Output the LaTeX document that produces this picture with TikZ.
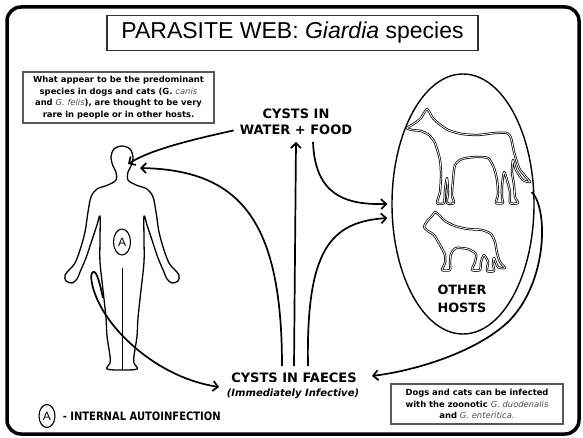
\documentclass[tikz,border=0pt]{standalone}
\usepackage{fontspec}
\setmainfont{DejaVu Sans}
\newfontfamily\titlefont{Liberation Sans}
\newfontfamily\narrowfont[FakeStretch=0.86]{DejaVu Sans}
\usetikzlibrary{arrows.meta,shapes.geometric}
\newcommand\spname[1]{{\mdseries\itshape\color{black!70}#1}}

\begin{document}
\begin{tikzpicture}[x=1pt,y=-1pt,
  flow/.style={line width=1.7pt,-{Straight Barb[length=5pt,width=10pt]}},
  notebox/.style={draw=black!65,line width=1.1pt,align=center,inner sep=2pt,
    font=\fontsize{8.4}{11.6}\selectfont\bfseries},
  label/.style={font=\fontsize{13}{16}\selectfont\bfseries,align=center,inner sep=0pt},
  outline/.style={line width=1.3pt,line join=round},
  animal/.style={double=white,double distance=0.8pt,line width=0.75pt,line join=round},
  letter/.style={draw,ellipse,line width=1.1pt,inner sep=0pt,
    font=\titlefont\fontsize{12}{12}\selectfont}]

\useasboundingbox (0,0) rectangle (583,438);
\fill[white] (0,0) rectangle (583,438);

% outer frame
\draw[line width=3.5pt,rounded corners=14pt] (7,7) rectangle (579,434);

% title
\node[draw=black!80,line width=1.3pt,minimum width=371pt,minimum height=35pt,
  font=\titlefont\fontsize{23}{23}\selectfont] (title) at (292.5,33)
  {PARASITE WEB: \textit{Giardia} species};

% notes
\node[notebox,minimum width=191pt,minimum height=51pt] (note) at (118.5,97.5)
  {What appear to be the predominant\\species in dogs and cats (G. \spname{canis}\\and \spname{G. felis}), are thought to be very\\rare in people or in other hosts.};
\node[notebox,minimum width=172pt,minimum height=40pt] (zoo) at (477,404)
  {Dogs and cats can be infected\\with the zoonotic \spname{G. duodenalis}\\and \spname{G. enteritica.}};

% stage labels
\node[label,text height=9.5pt,text depth=0pt] (water) at (296,130) {CYSTS IN\\WATER + FOOD};
\node[label,text height=9.5pt,text depth=0pt] (faeces) at (294,378) {CYSTS IN FAECES};
\node[font=\fontsize{10}{10}\selectfont\bfseries\itshape,inner sep=0pt] (infective) at (293,394)
  {(Immediately Infective)};

% human figure
\draw[outline] plot[smooth cycle,tension=0.55] coordinates {
  (122,146) (114,149) (111,157) (113,166) (116,172) (116,180) (108,185) (97,189)
  (91,197) (88,212) (85,232) (80,250) (75,263) (70,269) (65,275) (66,281) (72,283)
  (77,279) (80,272) (86,258) (92,240) (97,225) (100,216) (100,240) (100,262)
  (103,290) (106,318) (107,336) (110,356) (110,363) (107,369) (122,370)
  (137,369) (134,363) (134,356) (137,336) (138,318) (141,290) (144,262) (144,240)
  (144,216) (147,225) (152,240) (158,258) (164,272) (167,279) (172,283) (178,281)
  (179,275) (174,269) (169,263) (164,250) (159,232) (156,212) (153,197) (147,189)
  (136,185) (128,180) (128,172) (131,166) (133,157) (130,149)};
\draw[outline] (122.5,268) -- (122.5,370);
\node[letter,minimum width=17pt,minimum height=26pt] (gut) at (122,242) {A};
\coordinate (mouth) at (128,164);
\coordinate (mouth2) at (140,168);

% hosts
\node[draw,ellipse,line width=1.4pt,minimum width=142pt,minimum height=260pt,inner sep=0pt]
  (hosts) at (463,204) {};
% dog
\draw[animal] plot[smooth cycle,tension=0.4] coordinates {
  (407,128) (415,123) (421,118) (424,113) (427,109) (430,113) (432,117) (438,123)
  (448,130) (462,134) (478,135) (495,133) (507,133) (511,138) (514,152) (519,168)
  (525,176) (530,182) (523,180) (516,170) (513,160) (512,172) (514,185) (515,197)
  (518,203) (510,203) (510,192) (507,180) (504,172) (502,186) (502,198) (503,203)
  (496,203) (498,194) (497,180) (494,168) (488,158) (475,157) (462,159) (455,165)
  (453,180) (452,195) (454,203) (447,203) (448,192) (447,178) (445,190) (444,203)
  (437,203) (440,192) (441,175) (440,160) (435,143) (429,135) (421,131) (412,130)};
% cat
\draw[animal] plot[smooth cycle,tension=0.4] coordinates {
  (424,227) (428,220) (432,216) (435,212) (439,215) (445,221) (455,226) (468,229)
  (482,230) (491,234) (495,242) (497,253) (500,262) (505,268) (498,267) (494,258)
  (493,264) (494,271) (487,271) (488,262) (484,255) (481,262) (480,270) (472,270)
  (475,262) (476,254) (468,249) (456,248) (451,254) (450,263) (450,270) (442,270)
  (445,263) (445,255) (440,245) (434,235) (428,231)};
\node[font=\fontsize{12.8}{18}\selectfont\bfseries,align=center,inner sep=0pt]
  (others) at (462,299) {OTHER\\HOSTS};

% transmission routes
\draw[flow] ([xshift=-6pt,yshift=4.5pt]water.south west)
  .. controls (190,140) and (150,150) .. (mouth);
\draw[flow] ([xshift=-12pt,yshift=7pt]faeces.north)
  .. controls (282,220) and (240,170) .. (mouth2);
\draw[flow] ([yshift=7pt]faeces.north) -- ([yshift=-7pt]water.south);
\draw[flow] ([xshift=17pt,yshift=-7pt]water.south)
  .. controls (315,195) and (345,205) .. ([xshift=-4pt]hosts.west);
\draw[flow] ([xshift=14pt,yshift=7pt]faeces.north)
  .. controls (306,250) and (330,222) .. ([xshift=-4pt,yshift=-14pt]hosts.west);
\draw[flow] ([xshift=-3pt,yshift=12pt]hosts.east)
  .. controls (548,208) and (548,280) .. (510,320)
  .. controls (480,350) and (420,370) .. ([xshift=15pt,yshift=2pt]faeces.east);
\draw[flow] (103,298) .. controls (100,285) and (97,270) .. (93,272)
  .. controls (89,274) and (92,290) .. (100,305)
  .. controls (115,335) and (160,378) .. ([xshift=-12pt,yshift=-9pt]faeces.west);

% legend
\node[letter,minimum width=16pt,minimum height=23pt] (key) at (47,416) {A};
\node[anchor=west,font=\narrowfont\fontsize{11.6}{11.6}\selectfont\bfseries,inner sep=0pt]
  (keytext) at ([xshift=7pt]key.east) {- INTERNAL AUTOINFECTION};

\end{tikzpicture}
\end{document}
